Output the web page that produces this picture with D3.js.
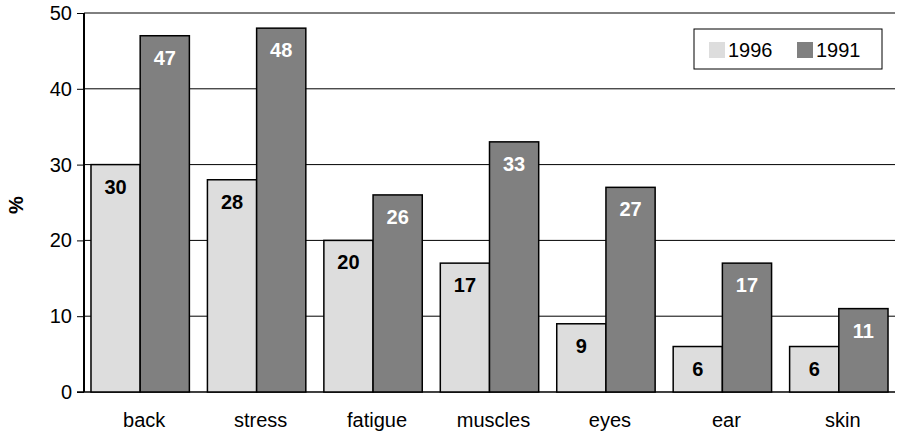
<!DOCTYPE html>
<html>
<head>
<meta charset="utf-8">
<script src="https://cdn.jsdelivr.net/npm/d3@7"></script>
<style>
  body { margin: 0; background: #fff; }
  text { font-family: "Liberation Sans", Arial, sans-serif; }
</style>
</head>
<body>
<script>
// Data
const categories = ["back", "stress", "fatigue", "muscles", "eyes", "ear", "skin"];
const series = ["1996", "1991"];
const values1996 = [30, 28, 20, 17, 9, 6, 6];
const values1991 = [47, 48, 26, 33, 27, 17, 11];
const yTicks = [0, 10, 20, 30, 40, 50];

const colors = { "1996": "#dddddd", "1991": "#808080" };
const labelColors = { "1996": "#000", "1991": "#fff" };

// Chart dimensions
const W = 899, H = 433;
const margin = { top: 13, right: 4, bottom: 41, left: 84 };
const width = W - margin.left - margin.right;
const height = H - margin.top - margin.bottom;

const svg = d3.select("body")
  .append("svg")
  .attr("width", W)
  .attr("height", H);

const g = svg.append("g")
  .attr("transform", "translate(" + margin.left + "," + margin.top + ")");

// Scales
const x0 = d3.scaleBand()
  .domain(categories)
  .range([0, width])
  .paddingInner(0.155)
  .paddingOuter(0.06);

const x1 = d3.scaleBand()
  .domain(series)
  .range([0, x0.bandwidth()]);

const y = d3.scaleLinear().domain([0, 50]).range([height, 0]);

// Grid lines
g.selectAll(".grid")
  .data(yTicks.filter(d => d > 0))
  .enter().append("line")
  .attr("x1", 0)
  .attr("x2", width)
  .attr("y1", d => y(d))
  .attr("y2", d => y(d))
  .attr("stroke", "#000")
  .attr("stroke-width", 1);

// Y axis
const yAxis = g.append("g")
  .call(d3.axisLeft(y).tickValues(yTicks).tickSize(7).tickPadding(5));
yAxis.select(".domain").attr("stroke", "#000").attr("stroke-width", 2)
  .attr("d", "M0," + height + "V0");
yAxis.selectAll(".tick line").attr("stroke", "#000").attr("stroke-width", 1);
yAxis.selectAll(".tick text")
  .style("font-size", "20px")
  .attr("fill", "#000");

// X baseline
g.append("line")
  .attr("x1", -7).attr("x2", width)
  .attr("y1", height).attr("y2", height)
  .attr("stroke", "#000").attr("stroke-width", 1.5);

// Bars
const rows = categories.map((c, i) => ({
  cat: c,
  vals: [
    { key: "1996", value: values1996[i] },
    { key: "1991", value: values1991[i] }
  ]
}));

const groups = g.selectAll(".grp")
  .data(rows)
  .enter().append("g")
  .attr("transform", d => "translate(" + x0(d.cat) + ",0)");

groups.selectAll("rect")
  .data(d => d.vals)
  .enter().append("rect")
  .attr("x", d => x1(d.key))
  .attr("y", d => y(d.value))
  .attr("width", x1.bandwidth())
  .attr("height", d => height - y(d.value))
  .attr("fill", d => colors[d.key])
  .attr("stroke", "#000")
  .attr("stroke-width", 1.5);

groups.selectAll(".val")
  .data(d => d.vals)
  .enter().append("text")
  .attr("x", d => x1(d.key) + x1.bandwidth() / 2)
  .attr("y", d => y(d.value) + 29)
  .attr("text-anchor", "middle")
  .style("font-size", "20px")
  .style("font-weight", "bold")
  .attr("fill", d => labelColors[d.key])
  .text(d => d.value);

// Category labels
g.selectAll(".cat")
  .data(categories)
  .enter().append("text")
  .attr("x", d => x0(d) + x0.bandwidth() / 2 + 4)
  .attr("y", height + 35)
  .attr("text-anchor", "middle")
  .style("font-size", "20px")
  .attr("fill", "#000")
  .text(d => d);

// Y axis title
svg.append("text")
  .attr("transform", "translate(23,205) rotate(-90)")
  .attr("text-anchor", "middle")
  .style("font-size", "20px")
  .style("font-weight", "bold")
  .text("%");

// Legend
const legend = svg.append("g").attr("transform", "translate(694,29)");
legend.append("rect")
  .attr("width", 188).attr("height", 40)
  .attr("fill", "#fff").attr("stroke", "#000").attr("stroke-width", 1);

const legendItems = legend.selectAll(".li")
  .data(series)
  .enter().append("g")
  .attr("transform", (d, i) => "translate(" + (15 + i * 88) + ",0)");

legendItems.append("rect")
  .attr("y", 13).attr("width", 16).attr("height", 16)
  .attr("fill", d => colors[d]);

legendItems.append("text")
  .attr("x", 19).attr("y", 28)
  .style("font-size", "20px")
  .attr("fill", "#000")
  .text(d => d);
</script>
</body>
</html>
